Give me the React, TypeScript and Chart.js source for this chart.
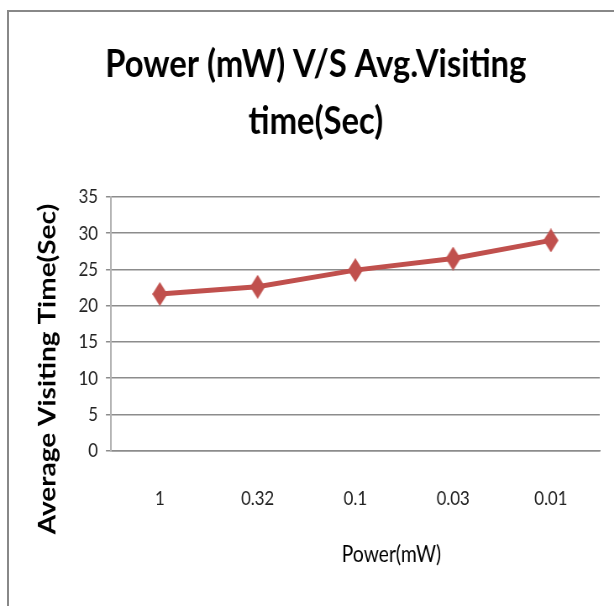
import React, { useEffect, useRef } from "react";
import { Chart, registerables } from "chart.js";

Chart.register(...registerables);

// ---- data ----
const categories = ["1", "0.32", "0.1", "0.03", "0.01"];
const avgVisitingTime = [21.6, 22.6, 24.9, 26.5, 29];
const yTickValues = [0, 5, 10, 15, 20, 25, 30, 35];
const titleLines = ["Power (mW) V/S Avg.Visiting", "time(Sec)"];
const xAxisTitle = "Power(mW)";
const yAxisTitle = "Average Visiting Time(Sec)";

// ---- layout ----
const SX = 0.84; // horizontal squeeze of the whole picture
const W = 731;
const H = 606;
const LINE_COLOR = "#C0504D";
const GRID_COLOR = "#8c8c8c";

function makeDiamond(): HTMLCanvasElement {
  const c = document.createElement("canvas");
  c.width = 18;
  c.height = 24;
  const g = c.getContext("2d")!;
  g.fillStyle = LINE_COLOR;
  g.beginPath();
  g.moveTo(9, 0);
  g.lineTo(18, 12);
  g.lineTo(9, 24);
  g.lineTo(0, 12);
  g.closePath();
  g.fill();
  return c;
}

const axisTitlesPlugin = {
  id: "axisTitles",
  afterDraw(chart: any) {
    const { ctx } = chart;
    ctx.save();
    ctx.fillStyle = "#000";
    ctx.font = "bold 28px Lato";
    ctx.textAlign = "center";
    ctx.textBaseline = "alphabetic";
    ctx.translate(65.5, 369);
    ctx.rotate(-Math.PI / 2);
    ctx.fillText(yAxisTitle, 0, 0);
    ctx.restore();

    ctx.save();
    ctx.fillStyle = "#000";
    ctx.font = "23px Lato";
    ctx.textAlign = "center";
    ctx.textBaseline = "alphabetic";
    ctx.fillText(xAxisTitle, 466, 562);
    ctx.restore();
  },
};

export default function App() {
  const ref = useRef<HTMLCanvasElement | null>(null);

  useEffect(() => {
    if (!ref.current) return;
    const diamond = makeDiamond();
    const chart = new Chart(ref.current, {
      type: "line",
      data: {
        labels: categories,
        datasets: [
          {
            data: avgVisitingTime,
            borderColor: LINE_COLOR,
            backgroundColor: LINE_COLOR,
            borderWidth: 5,
            pointStyle: diamond as any,
            pointRadius: 9,
            tension: 0,
          },
        ],
      },
      options: {
        responsive: false,
        animation: false,
        devicePixelRatio: 1,
        layout: { padding: { left: 38, right: 17, top: 0, bottom: 58.7 } },
        font: { family: "Lato" },
        plugins: {
          legend: { display: false },
          tooltip: { enabled: false },
          title: {
            display: true,
            text: titleLines,
            color: "#000",
            font: { family: "Lato", size: 39, weight: "bold", lineHeight: 1.46 },
            padding: { top: 36, bottom: 47 },
          },
        },
        scales: {
          x: {
            offset: true,
            grid: { display: false, drawTicks: false },
            border: { display: true, color: GRID_COLOR, width: 1.5 },
            ticks: {
              color: "#222",
              font: { family: "Lato", size: 20, lineHeight: 1.2 },
              padding: 36.3,
              maxRotation: 0,
            },
          },
          y: {
            min: yTickValues[0],
            max: yTickValues[yTickValues.length - 1],
            ticks: {
              stepSize: yTickValues[1] - yTickValues[0],
              color: "#222",
              font: { family: "Lato", size: 20, lineHeight: 1.2 },
              padding: 9.4,
            },
            grid: { color: GRID_COLOR, lineWidth: 1.5, tickLength: 6 },
            border: { display: true, color: "#b4b4b4", width: 2 },
            afterFit(scale: any) {
              scale.width = 94.1;
            },
          },
        },
      },
      plugins: [axisTitlesPlugin],
    });
    return () => chart.destroy();
  }, []);

  return (
    <div
      style={{
        position: "fixed",
        left: 0,
        top: 0,
        width: 614,
        height: 606,
        overflow: "hidden",
        background: "#fff",
      }}
    >
      <div
        style={{
          position: "absolute",
          left: 0,
          top: 0,
          width: W,
          height: H,
          transform: `scaleX(${SX})`,
          transformOrigin: "0 0",
        }}
      >
        <canvas ref={ref} width={W} height={H} style={{ width: W, height: H, display: "block" }} />
      </div>
      <div
        style={{
          position: "absolute",
          left: 7,
          top: 10,
          width: 700,
          height: 700,
          border: "2px solid #888",
          boxSizing: "border-box",
          pointerEvents: "none",
        }}
      />
    </div>
  );
}
